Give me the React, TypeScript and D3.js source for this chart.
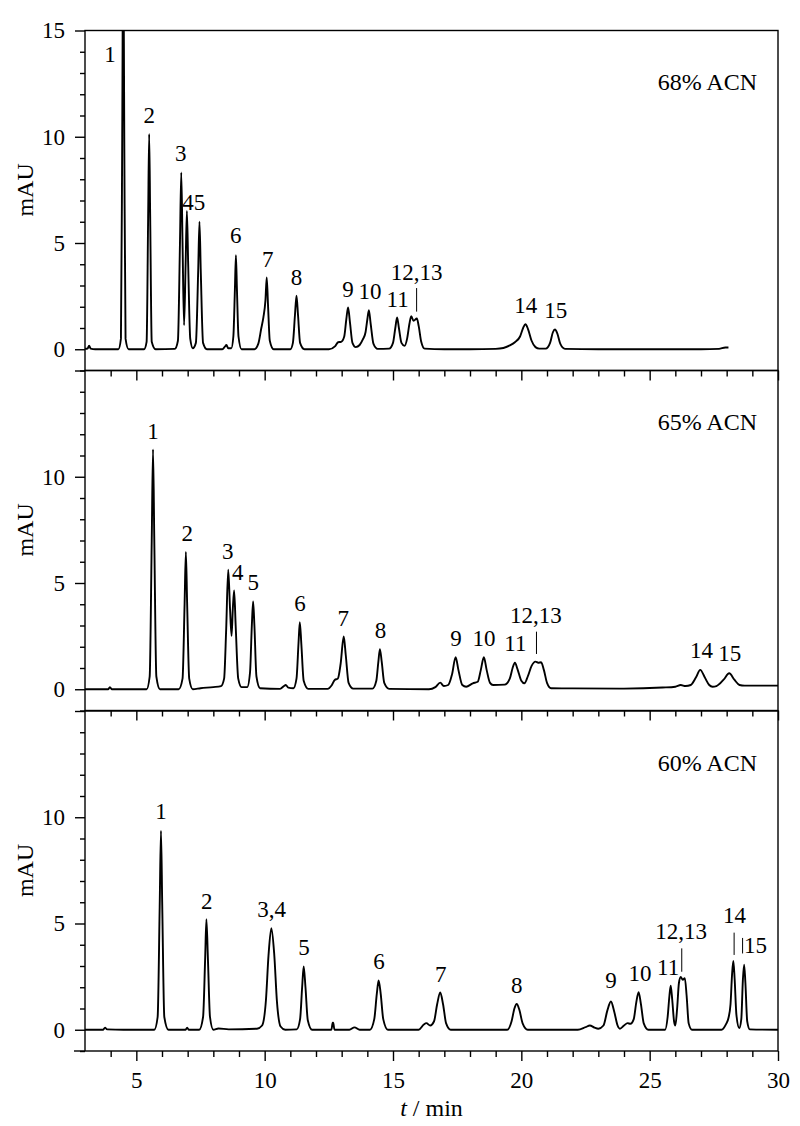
import { useEffect, useRef } from "react";
import * as d3 from "d3";

type Pt = [number, number]; // [t (min), signal (mAU)]
type Lab = { text: string; t: number; v: number };
type Mark = { t: number; v0: number; v1: number };

// chromatogram traces
const TRACE_68: Pt[] = [
  [3.0, 0.02], [3.1, 0.03], [3.16, 0.17], [3.22, 0.03], [3.4, 0.0],
  [4.3, 0.0], [4.4, 0.5], [4.45, 10], [4.49, 20], [4.53, 10], [4.58, 0.5], [4.7, 0.0],
  [5.3, 0.0], [5.4, 0.35], [5.46, 6.2], [5.5, 10.13], [5.54, 6.2], [5.6, 0.35], [5.75, 0.0],
  [6.5, 0.02], [6.62, 0.4], [6.7, 5.0], [6.75, 8.32], [6.8, 5.0], [6.86, 1.13], [6.92, 4.0], [6.97, 6.51], [7.02, 4.0], [7.1, 0.5], [7.2, 0.05],
  [7.32, 0.3], [7.41, 3.7], [7.46, 6.0], [7.51, 3.7], [7.6, 0.3], [7.75, 0.0],
  [8.35, 0.0], [8.45, 0.12], [8.51, 0.2], [8.58, 0.05],
  [8.7, 0.05], [8.78, 0.6], [8.84, 2.8], [8.88, 4.43], [8.92, 2.8], [8.98, 0.6], [9.1, 0.0],
  [9.6, 0.0], [9.75, 0.25], [9.87, 1.0], [9.95, 1.5], [10.03, 2.3], [10.08, 3.38], [10.13, 2.1], [10.2, 0.4], [10.35, 0.0],
  [11.0, 0.0], [11.1, 0.3], [11.18, 1.6], [11.24, 2.52], [11.3, 1.6], [11.38, 0.3], [11.55, 0.0],
  [12.5, 0.0], [12.75, 0.15], [12.86, 0.33], [12.98, 0.35], [13.1, 0.6], [13.18, 1.4], [13.25, 1.97], [13.32, 1.3], [13.42, 0.3], [13.55, 0.1],
  [13.7, 0.2], [13.82, 0.45], [13.93, 0.8], [14.0, 1.4], [14.06, 1.84], [14.13, 1.2], [14.24, 0.25], [14.4, 0.02],
  [14.85, 0.03], [15.0, 0.3], [15.09, 1.0], [15.16, 1.5], [15.23, 1.0], [15.33, 0.3], [15.45, 0.16],
  [15.55, 0.5], [15.64, 1.2], [15.71, 1.56], [15.8, 1.34], [15.93, 1.45], [16.0, 1.1], [16.1, 0.35], [16.23, 0.03],
  [17.0, 0.0], [18.0, 0.0], [19.0, 0.02],
  [19.3, 0.06], [19.55, 0.18], [19.75, 0.33], [19.95, 0.6], [20.07, 1.0], [20.16, 1.18], [20.26, 0.95], [20.4, 0.4], [20.55, 0.1], [20.7, 0.03],
  [20.95, 0.03], [21.12, 0.3], [21.23, 0.8], [21.31, 0.93], [21.4, 0.75], [21.52, 0.25], [21.7, 0.02],
  [23.0, 0.0], [25.0, 0.0], [27.0, 0.0], [27.7, 0.02], [27.95, 0.08], [28.07, 0.08],
];

const TRACE_65: Pt[] = [
  [3.0, 0.0], [3.9, 0.0], [3.97, 0.1], [4.05, 0.0],
  [5.4, 0.0], [5.52, 0.6], [5.6, 7.0], [5.65, 11.29], [5.7, 7.0], [5.78, 0.6], [5.92, 0.0],
  [6.65, 0.0], [6.8, 0.5], [6.88, 4.0], [6.93, 6.46], [6.98, 4.0], [7.06, 0.5], [7.2, 0.0],
  [7.5, 0.05], [8.0, 0.1], [8.3, 0.15],
  [8.42, 0.5], [8.5, 2.8], [8.58, 5.63], [8.65, 3.8], [8.71, 2.51], [8.76, 3.8], [8.81, 4.65], [8.87, 3.0], [8.97, 0.5], [9.1, 0.1],
  [9.32, 0.1], [9.43, 0.8], [9.5, 3.0], [9.55, 4.13], [9.6, 3.0], [9.68, 0.6], [9.82, 0.05],
  [10.6, 0.02], [10.75, 0.15], [10.82, 0.2], [10.92, 0.08],
  [11.12, 0.05], [11.24, 0.5], [11.32, 2.2], [11.37, 3.16], [11.43, 2.1], [11.52, 0.4], [11.7, 0.02],
  [12.45, 0.02], [12.62, 0.2], [12.73, 0.44], [12.85, 0.5], [12.96, 1.2], [13.08, 2.48], [13.16, 1.6], [13.27, 0.3], [13.45, 0.03],
  [14.2, 0.03], [14.35, 0.4], [14.43, 1.3], [14.49, 1.89], [14.56, 1.3], [14.66, 0.3], [14.85, 0.02],
  [16.4, 0.0], [16.65, 0.1], [16.84, 0.31], [16.98, 0.15],
  [17.15, 0.2], [17.3, 0.7], [17.44, 1.51], [17.55, 0.9], [17.7, 0.2], [17.85, 0.12],
  [18.11, 0.28],
  [18.3, 0.35], [18.42, 0.9], [18.54, 1.51], [18.65, 0.9], [18.78, 0.3], [18.9, 0.2],
  [19.35, 0.22], [19.55, 0.5], [19.66, 1.0], [19.75, 1.25], [19.85, 0.95], [20.0, 0.4], [20.12, 0.28],
  [20.25, 0.6], [20.4, 1.1], [20.55, 1.3], [20.66, 1.25], [20.77, 1.27], [20.88, 0.9], [21.0, 0.3], [21.16, 0.05],
  [22.0, 0.04], [24.0, 0.03], [25.5, 0.08],
  [26.0, 0.12], [26.21, 0.2], [26.4, 0.15],
  [26.6, 0.2], [26.8, 0.55], [26.97, 0.91], [27.15, 0.55], [27.32, 0.2], [27.45, 0.12],
  [27.6, 0.15], [27.88, 0.45], [28.1, 0.75], [28.3, 0.45], [28.5, 0.2], [28.7, 0.17],
  [30.0, 0.17],
];

const TRACE_60: Pt[] = [
  [3.0, 0.0], [3.7, 0.0], [3.78, 0.1], [3.86, 0.02], [4.5, 0.0],
  [5.7, 0.0], [5.83, 0.6], [5.91, 5.8], [5.96, 9.37], [6.01, 5.8], [6.09, 0.6], [6.25, 0.0],
  [6.92, 0.0], [6.98, 0.1], [7.04, 0.0],
  [7.45, 0.0], [7.6, 0.6], [7.68, 3.3], [7.73, 5.2], [7.79, 3.3], [7.87, 0.6], [8.0, 0.0],
  [8.2, 0.06], [8.6, 0.02],
  [9.7, 0.05], [9.9, 0.2], [10.05, 1.4], [10.15, 3.5], [10.26, 4.78], [10.37, 3.6], [10.48, 1.3], [10.62, 0.15], [10.8, 0.0],
  [11.25, 0.02], [11.38, 0.5], [11.46, 2.0], [11.52, 2.98], [11.59, 2.0], [11.68, 0.45], [11.85, 0.0],
  [12.6, 0.0], [12.65, 0.33], [12.67, 0.33], [12.72, 0.0],
  [13.3, 0.0], [13.5, 0.11], [13.7, 0.0],
  [14.1, 0.0], [14.27, 0.5], [14.37, 1.7], [14.44, 2.32], [14.52, 1.7], [14.62, 0.5], [14.8, 0.0],
  [16.0, 0.0], [16.2, 0.25], [16.3, 0.31], [16.45, 0.2],
  [16.6, 0.4], [16.72, 1.2], [16.84, 1.75], [16.95, 1.2], [17.07, 0.3], [17.25, 0.0],
  [19.45, 0.0], [19.62, 0.4], [19.73, 1.0], [19.82, 1.21], [19.92, 0.95], [20.05, 0.3], [20.25, 0.0],
  [22.2, 0.0], [22.5, 0.12], [22.67, 0.2], [22.85, 0.1], [23.0, 0.05],
  [23.2, 0.2], [23.35, 0.9], [23.49, 1.33], [23.62, 0.85], [23.75, 0.2], [23.84, 0.05],
  [24.0, 0.2], [24.14, 0.31], [24.25, 0.28],
  [24.38, 0.5], [24.48, 1.3], [24.57, 1.77], [24.66, 1.2], [24.77, 0.3], [24.95, 0.0],
  [25.6, 0.0], [25.7, 0.6], [25.77, 1.6], [25.82, 2.07], [25.88, 1.4], [25.95, 0.4], [26.0, 0.2],
  [26.07, 1.0], [26.14, 2.2], [26.21, 2.48], [26.29, 2.35], [26.37, 2.43], [26.44, 1.6], [26.52, 0.3], [26.65, 0.0],
  [27.8, 0.0], [27.97, 0.25], [28.07, 0.55], [28.15, 1.2], [28.21, 2.6], [28.26, 3.24], [28.31, 2.4], [28.38, 0.7], [28.49, 0.08],
  [28.57, 0.5], [28.63, 2.3], [28.68, 3.06], [28.73, 2.2], [28.8, 0.4], [28.9, 0.02], [30.0, 0.0],
];

// peak numbers (t = centre, v = text baseline)
const LABELS_68: Lab[] = [
  { text: "1", t: 3.97, v: 13.53 }, { text: "2", t: 5.5, v: 10.63 }, { text: "3", t: 6.73, v: 8.87 },
  { text: "45", t: 7.24, v: 6.55 }, { text: "6", t: 8.87, v: 4.99 }, { text: "7", t: 10.12, v: 3.88 },
  { text: "8", t: 11.24, v: 3.02 }, { text: "9", t: 13.25, v: 2.47 }, { text: "10", t: 14.1, v: 2.38 },
  { text: "11", t: 15.18, v: 1.99 }, { text: "12,13", t: 15.92, v: 3.26 }, { text: "14", t: 20.17, v: 1.72 },
  { text: "15", t: 21.34, v: 1.46 },
];
const LABELS_65: Lab[] = [
  { text: "1", t: 5.65, v: 11.76 }, { text: "2", t: 6.98, v: 6.98 }, { text: "3", t: 8.56, v: 6.12 },
  { text: "4", t: 8.95, v: 5.14 }, { text: "5", t: 9.56, v: 4.67 }, { text: "6", t: 11.38, v: 3.68 },
  { text: "7", t: 13.06, v: 2.98 }, { text: "8", t: 14.51, v: 2.43 }, { text: "9", t: 17.45, v: 2.04 },
  { text: "10", t: 18.55, v: 2.04 }, { text: "11", t: 19.77, v: 1.81 }, { text: "12,13", t: 20.57, v: 3.13 },
  { text: "14", t: 27.02, v: 1.46 }, { text: "15", t: 28.12, v: 1.34 },
];
const LABELS_60: Lab[] = [
  { text: "1", t: 5.96, v: 9.9 }, { text: "2", t: 7.74, v: 5.68 }, { text: "3,4", t: 10.27, v: 5.29 },
  { text: "5", t: 11.53, v: 3.53 }, { text: "6", t: 14.45, v: 2.84 }, { text: "7", t: 16.86, v: 2.26 },
  { text: "8", t: 19.82, v: 1.72 }, { text: "9", t: 23.49, v: 1.95 }, { text: "10", t: 24.62, v: 2.29 },
  { text: "11", t: 25.72, v: 2.58 }, { text: "12,13", t: 26.23, v: 4.26 }, { text: "14", t: 28.31, v: 5.04 },
  { text: "15", t: 29.12, v: 3.63 },
];
// little pointer lines under labels
const MARKS_68: Mark[] = [{ t: 15.92, v0: 1.77, v1: 2.88 }];
const MARKS_65: Mark[] = [{ t: 20.59, v0: 1.66, v1: 2.71 }];
const MARKS_60: Mark[] = [
  { t: 26.25, v0: 2.73, v1: 3.83 },
  { t: 28.29, v0: 3.52, v1: 4.57 },
  { t: 28.62, v0: 3.59, v1: 4.32 },
];

const CONDITIONS = ["68% ACN", "65% ACN", "60% ACN"];
const Y_MAJOR = [0, 5, 10, 15];
const X_MAJOR = [5, 10, 15, 20, 25, 30];

const panels = [
  { trace: TRACE_68, labels: LABELS_68, marks: MARKS_68, name: CONDITIONS[0] },
  { trace: TRACE_65, labels: LABELS_65, marks: MARKS_65, name: CONDITIONS[1] },
  { trace: TRACE_60, labels: LABELS_60, marks: MARKS_60, name: CONDITIONS[2] },
];

export default function App() {
  const ref = useRef<SVGSVGElement | null>(null);

  useEffect(() => {
    if (!ref.current) return;
    const svg = d3.select(ref.current);
    svg.selectAll("*").remove();

    const font = "'Liberation Serif','Times New Roman',serif";
    const left = 85, right = 778;
    const tops = [30.5, 370.5, 711];
    const ph = 340;
    const sw = 1.4;

    const x = d3.scaleLinear().domain([3, 30]).range([left, right]);
    const xMinor = d3.range(4, 30).filter(d => d % 5 !== 0);
    const yMinor = d3.range(-1, 16).filter(d => d % 5 !== 0);

    panels.forEach((p, i) => {
      const top = tops[i];
      const bottom = top + ph;
      const y = d3.scaleLinear().domain([-1, 15]).range([bottom, top]);
      const last = i === panels.length - 1;

      svg.append("clipPath").attr("id", `clip${i}`)
        .append("rect").attr("x", left).attr("y", top).attr("width", right - left).attr("height", ph);

      // trace
      const line = d3.line<Pt>().x(d => x(d[0])).y(d => y(d[1])).curve(d3.curveMonotoneX);
      svg.append("path")
        .datum(p.trace)
        .attr("clip-path", `url(#clip${i})`)
        .attr("fill", "none")
        .attr("stroke", "#000")
        .attr("stroke-width", 1.9)
        .attr("stroke-linejoin", "round")
        .attr("d", line as any);

      // frame
      svg.append("rect")
        .attr("x", left).attr("y", top).attr("width", right - left).attr("height", ph)
        .attr("fill", "none").attr("stroke", "#000").attr("stroke-width", sw);

      const style = (g: any) => {
        g.select(".domain").remove();
        g.selectAll("line").attr("stroke-width", sw);
        g.attr("font-family", font).attr("font-size", 23);
      };

      // y axis
      svg.append("g").attr("transform", `translate(${left},0)`)
        .call(d3.axisLeft(y).tickValues(yMinor).tickSize(5).tickFormat(() => ""))
        .call(style);
      svg.append("g").attr("transform", `translate(${left},0)`)
        .call(d3.axisLeft(y).tickValues(Y_MAJOR).tickSize(10).tickPadding(10)
          .tickFormat(d => (i > 0 && d === 15 ? "" : String(d))))
        .call(style);

      // x axis
      svg.append("g").attr("transform", `translate(0,${bottom})`)
        .call(d3.axisBottom(x).tickValues(xMinor).tickSize(6).tickFormat(() => ""))
        .call(style);
      svg.append("g").attr("transform", `translate(0,${bottom})`)
        .call(d3.axisBottom(x).tickValues(X_MAJOR).tickSize(10).tickPadding(11)
          .tickFormat(d => (last ? String(d) : "")))
        .call(style);

      if (last) {
        svg.append("line").attr("x1", left - 11).attr("x2", left)
          .attr("y1", bottom).attr("y2", bottom).attr("stroke", "#000").attr("stroke-width", sw);
      }

      // y label
      svg.append("text")
        .attr("transform", `translate(33,${(y(0) + y(15)) / 2}) rotate(-90)`)
        .attr("text-anchor", "middle")
        .attr("font-family", font).attr("font-size", 24)
        .text("mAU");

      // condition
      svg.append("text")
        .attr("x", 757).attr("y", top + 59.5)
        .attr("text-anchor", "end")
        .attr("font-family", font).attr("font-size", 24)
        .text(p.name);

      // peak numbers
      svg.append("g").selectAll("text").data(p.labels).join("text")
        .attr("x", d => x(d.t)).attr("y", d => y(d.v))
        .attr("text-anchor", "middle")
        .attr("font-family", font).attr("font-size", 23)
        .text(d => d.text);

      svg.append("g").selectAll("line").data(p.marks).join("line")
        .attr("x1", d => x(d.t)).attr("x2", d => x(d.t))
        .attr("y1", d => y(d.v0)).attr("y2", d => y(d.v1))
        .attr("stroke", "#000").attr("stroke-width", 1);
    });

    // x title
    const xt = svg.append("text")
      .attr("x", (left + right) / 2).attr("y", 1116)
      .attr("text-anchor", "middle")
      .attr("font-family", font).attr("font-size", 24);
    xt.append("tspan").attr("font-style", "italic").text("t");
    xt.append("tspan").text(" / min");
  }, []);

  return (
    <svg
      ref={ref}
      width={800}
      height={1126}
      style={{ position: "absolute", left: 0, top: 0, background: "#fff" }}
    />
  );
}
